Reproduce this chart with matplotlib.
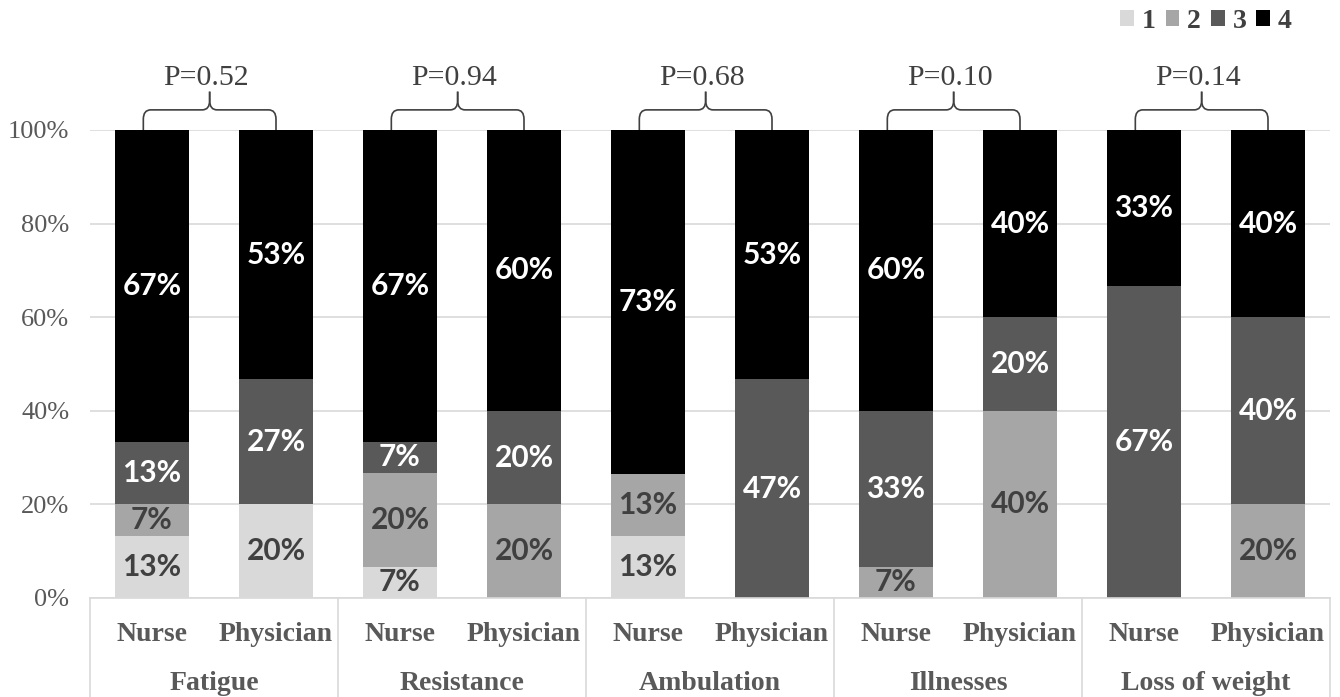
import matplotlib
matplotlib.use("Agg")
import matplotlib.pyplot as plt
import numpy as np
from matplotlib.path import Path
from matplotlib.patches import PathPatch, Patch
from matplotlib.transforms import blended_transform_factory

# groups and roles along the x axis
groups = ["Fatigue", "Resistance", "Ambulation", "Illnesses", "Loss of weight"]
roles = ["Nurse", "Physician"]
p_values = ["P=0.52", "P=0.94", "P=0.68", "P=0.10", "P=0.14"]

# percent of answers per score level, one value per bar (Nurse, Physician, ...)
score1 = [13.3, 20.0, 6.7, 0.0, 13.3, 0.0, 0.0, 0.0, 0.0, 0.0]
score2 = [6.7, 0.0, 20.0, 20.0, 13.3, 0.0, 6.7, 40.0, 0.0, 20.0]
score3 = [13.3, 26.7, 6.7, 20.0, 0.0, 46.7, 33.3, 20.0, 66.7, 40.0]
score4 = [66.7, 53.3, 66.7, 60.0, 73.3, 53.3, 60.0, 40.0, 33.3, 40.0]

series = [score1, score2, score3, score4]
series_names = ["1", "2", "3", "4"]
colors = ["#d9d9d9", "#a6a6a6", "#595959", "#000000"]
label_colors = ["#404040", "#404040", "white", "white"]

serif = ["Liberation Serif", "DejaVu Serif"]
gray = "#595959"

fig = plt.figure(figsize=(13.4, 6.97), dpi=100)
ax = fig.add_axes([90 / 1340, 99 / 697, 1240 / 1340, 468 / 697])

x = np.arange(len(groups) * len(roles))
bottom = np.zeros(len(x))
for vals, col, lcol in zip(series, colors, label_colors):
    vals = np.array(vals)
    ax.bar(x, vals, width=0.6, bottom=bottom, color=col, zorder=2)
    for xi, b, v in zip(x, bottom, vals):
        if v > 0:
            ax.text(xi, b + v / 2, f"{v:.0f}%", ha="center", va="center",
                    color=lcol, fontsize=21.5, fontweight="bold", family="Lato", zorder=3)
    bottom += vals

ax.set_xlim(-0.5, len(x) - 0.5)
ax.set_ylim(0, 100)
ax.set_yticks(np.arange(0, 101, 20))
ax.set_yticklabels([f"{t}%" for t in range(0, 101, 20)], family=serif, fontsize=19, color=gray)
ax.tick_params(axis="y", length=0, pad=15)
ax.tick_params(axis="x", length=0, labelbottom=False)
ax.yaxis.grid(True, color="#d9d9d9", lw=1.2, zorder=0)
for s in ["left", "right", "top"]:
    ax.spines[s].set_visible(False)
ax.spines["bottom"].set_color("#d9d9d9")
ax.spines["bottom"].set_linewidth(1.2)

# category table under the axis
tr = blended_transform_factory(ax.transData, ax.transAxes)
for i in range(len(groups) + 1):
    xb = i * 2 - 0.5
    ax.plot([xb, xb], [0, -0.22], color="#d9d9d9", lw=1.2, transform=tr, clip_on=False)
for xi in x:
    ax.text(xi, -0.077, roles[xi % 2], transform=tr, ha="center", va="center",
            family=serif, fontsize=20, fontweight="bold", color=gray)
for i, g in enumerate(groups):
    ax.text(i * 2 + 0.5, -0.182, g, transform=tr, ha="center", va="center",
            family=serif, fontsize=20, fontweight="bold", color=gray)


# curly brackets with p values
def brace(x0, x1, y0, y1, y2, rx=0.06, ry=2.0):
    xm = (x0 + x1) / 2
    verts_l = [(x0, y0), (x0, y1 - ry), (x0, y1), (x0 + rx, y1), (xm - rx, y1),
               (xm, y1), (xm, y1 + ry), (xm, y2)]
    codes = [Path.MOVETO, Path.LINETO, Path.CURVE3, Path.CURVE3, Path.LINETO,
             Path.CURVE3, Path.CURVE3, Path.LINETO]
    verts_r = [(2 * xm - vx, vy) for vx, vy in verts_l]
    for v in (verts_l, verts_r):
        ax.add_patch(PathPatch(Path(v, codes), fill=False, ec="#404040", lw=1.2,
                               clip_on=False, zorder=4))
    return xm


for i, p in enumerate(p_values):
    xm = brace(i * 2 - 0.07, i * 2 + 1.0, 100, 104.3, 108.2)
    ax.text(xm - 0.03, 108.3, p, ha="center", va="bottom", family=serif, fontsize=21.5,
            color="#404040", clip_on=False)

handles = [Patch(facecolor=c) for c in colors]
fig.legend(handles, series_names, loc="center", bbox_to_anchor=(1206 / 1340, 1 - 21 / 697),
           ncol=4, frameon=False, handlelength=0.5, handleheight=0.5, handletextpad=0.28,
           columnspacing=0.35, prop={"family": serif, "size": 20, "weight": "bold"},
           labelcolor="#404040")

fig.savefig("out.png", dpi=100)
